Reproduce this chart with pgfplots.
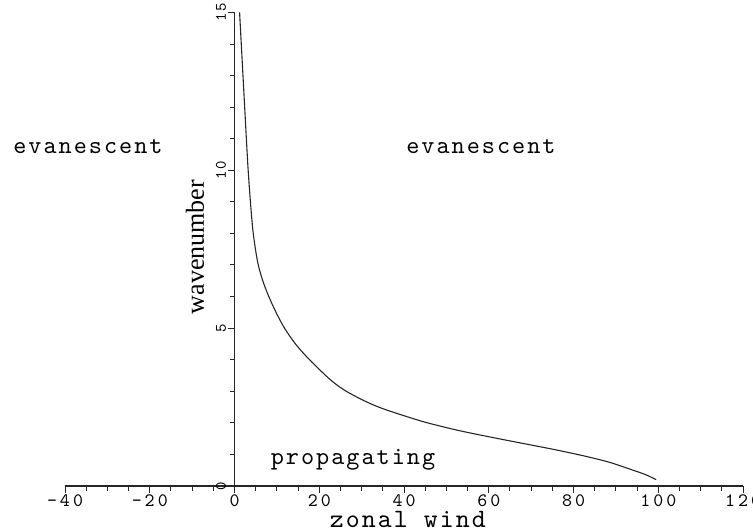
\documentclass[border=0pt]{standalone}
\usepackage{fontspec}
\setmainfont{Liberation Serif}
\newfontfamily\pf{lmmono10-regular.otf}[LetterSpace=8]
\newfontfamily\ptk{lmmono10-regular.otf}[LetterSpace=16]
\usepackage{pgfplots}
\pgfplotsset{compat=1.18}
\begin{document}
\begin{tikzpicture}
\begin{axis}[
  x=4.2375pt, y=31.57pt,
  xmin=-40, xmax=120, ymin=0, ymax=15,
  axis lines=middle,
  axis line style={-, line width=1.2pt, black!85},
  every tick/.style={line width=1pt, black!85},
  xtick={-40,-20,...,120},
  xticklabels={–40,–20,0,20,40,60,80,100,120},
  minor x tick num=3,
  ytick={0,5,10,15},
  minor y tick num=4,
  tick align=outside,
  major tick length=7pt, minor tick length=5pt,
  hide obscured x ticks=false, hide obscured y ticks=false,
  /pgf/number format/assume math mode=true,
  xticklabel style={font=\fontsize{19}{21}\ptk, anchor=north, yshift=1pt, inner sep=2pt},
  yticklabel style={font=\fontsize{16}{18}\pf, xshift=2pt, rotate=90, anchor=south},
  clip=false,
]
\addplot[line width=1.1pt, black!85, smooth] coordinates {
(1.2,15.0) (1.6,14.0) (2.0,13.0) (2.4,12.0) (2.8,11.0) (3.2,10.05) (3.7,9.1)
(4.3,8.15) (5.0,7.45) (5.7,6.95) (6.8,6.45) (8.1,6.0) (9.8,5.5) (11.8,5.0)
(14.5,4.48) (17.7,4.0) (22.5,3.38) (26,3.03) (30.3,2.72) (34,2.5) (38.3,2.3)
(45,2.02) (52.5,1.77) (60,1.56) (68,1.35) (76,1.14) (83.2,0.93) (88.5,0.75)
(93.4,0.53) (97,0.36) (99.5,0.2)
};
\node[font=\fontsize{25}{27}\pf, anchor=base] at (axis cs:-34.57,10.52) {evanescent};
\node[font=\fontsize{25}{27}\pf, anchor=base] at (axis cs:58.17,10.52) {evanescent};
\node[font=\fontsize{25}{27}\pf, anchor=base] at (axis cs:27.97,0.665) {propagating};
\node[font=\fontsize{26.5}{28}\pf, anchor=base, inner sep=0pt, text depth=0pt] at (axis cs:40.9,-1.32) {zonal wind};
\node[font=\fontsize{26}{28}\selectfont, anchor=base, rotate=90] at (axis cs:-7.2,7.57) {wavenumber};
\coordinate (bl) at (axis cs:-55.34,-1.457);
\coordinate (tr) at (axis cs:122.36,15.394);
\end{axis}
\pgfresetboundingbox
\path[use as bounding box] (bl) rectangle (tr);
\end{tikzpicture}
\end{document}
